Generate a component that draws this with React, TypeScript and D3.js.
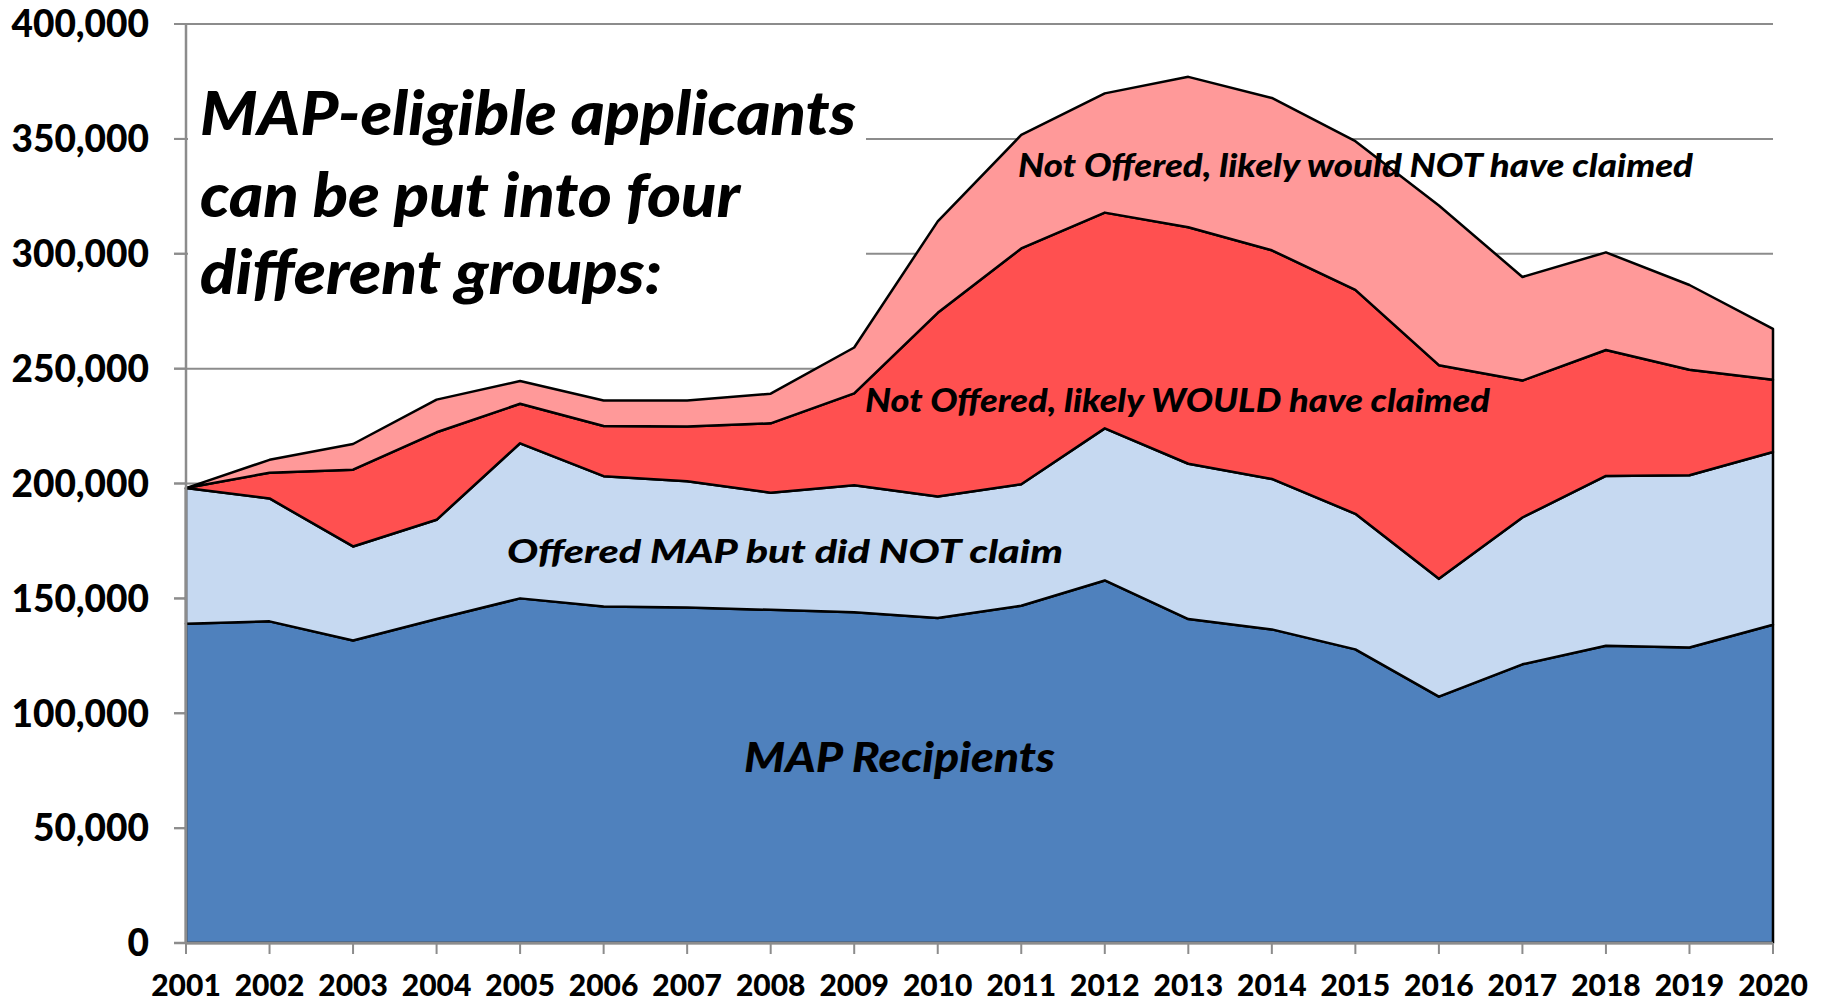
import React, { useMemo } from 'react';
import * as d3 from 'd3';

const years = [
  2001, 2002, 2003, 2004, 2005, 2006, 2007, 2008, 2009, 2010,
  2011, 2012, 2013, 2014, 2015, 2016, 2017, 2018, 2019, 2020,
];
// each group's own count, stacked bottom to top
const recipients = [
  139000, 140000, 131700, 141000, 150000, 146500, 146000, 145000, 144000, 141500,
  146800, 157800, 141000, 136500, 127800, 107200, 121300, 129400, 128600, 138500,
];
const offeredNotClaimed = [
  59000, 53500, 40900, 43200, 67500, 56700, 55000, 51000, 55200, 52800,
  52900, 66200, 67600, 65500, 59000, 51300, 63900, 73900, 75000, 75200,
];
const notOfferedWould = [
  0, 11200, 33400, 38100, 17200, 21800, 23800, 30200, 40000, 80000,
  102600, 93900, 102900, 99500, 97500, 93000, 59600, 54800, 45900, 31500,
];
const notOfferedWouldNot = [
  0, 5600, 11200, 14200, 9900, 11100, 11300, 12900, 20000, 39800,
  49400, 51900, 65500, 66300, 64700, 69500, 45100, 42500, 36900, 22100,
];
const yTicks = [0, 50000, 100000, 150000, 200000, 250000, 300000, 350000, 400000];

const keys = ['recipients', 'offered', 'would', 'wouldNot'];
const colors: Record<string, string> = {
  recipients: '#4F81BD',
  offered: '#C6D9F1',
  would: '#FF5050',
  wouldNot: '#FF9999',
};

const W = 1821;
const H = 1006;
const FONT = "Lato, 'Open Sans', sans-serif";
const GRID = '#8c8c8c';

const titleLines = [
  { text: 'MAP-eligible applicants', x: 200, y: 135, len: 656 },
  { text: 'can be put into four', x: 200, y: 217, len: 540 },
  { text: 'different groups:', x: 200, y: 294, len: 462 },
];

const notes = [
  { text: 'Not Offered, likely would NOT have claimed', x: 1018, y: 177, len: 675, size: 33 },
  { text: 'Not Offered, likely WOULD have claimed', x: 865, y: 412, len: 625, size: 33 },
  { text: 'Offered MAP but did NOT claim', x: 507, y: 563, len: 556, size: 33 },
  { text: 'MAP Recipients', x: 744, y: 772, len: 311, size: 41 },
];

const App: React.FC = () => {
  const x = d3.scaleLinear().domain([2001, 2020]).range([186, 1773]);
  const y = d3.scaleLinear().domain([0, 400000]).range([943, 24]);

  const layers = useMemo(() => {
    const rows = years.map((yr, i) => ({
      year: yr,
      recipients: recipients[i],
      offered: offeredNotClaimed[i],
      would: notOfferedWould[i],
      wouldNot: notOfferedWouldNot[i],
    }));
    return d3.stack<any>().keys(keys)(rows);
  }, []);

  const area = d3
    .area<any>()
    .x((d) => x(d.data.year))
    .y0((d) => y(d[0]))
    .y1((d) => y(d[1]));

  return (
    <svg
      width={W}
      height={H}
      style={{ position: 'absolute', left: 0, top: 0, background: '#fff' }}
      fontFamily={FONT}
    >
      {yTicks.slice(1).map((t) => (
        <line key={t} x1={174} x2={1773} y1={y(t)} y2={y(t)} stroke={GRID} strokeWidth={2} />
      ))}
      <rect x={188} y={60} width={678} height={245} fill="#fff" />

      {layers.map((layer) => (
        <path
          key={layer.key}
          d={area(layer) || ''}
          fill={colors[layer.key]}
          stroke="#000"
          strokeWidth={2.5}
          strokeLinejoin="round"
        />
      ))}

      {/* axes */}
      <line x1={186} x2={186} y1={24} y2={943} stroke={GRID} strokeWidth={2.5} />
      <line x1={174} x2={1773} y1={943} y2={943} stroke={GRID} strokeWidth={2.5} />
      {yTicks.map((t) => (
        <g key={t}>
          <line x1={174} x2={186} y1={y(t)} y2={y(t)} stroke={GRID} strokeWidth={2} />
          <text
            x={149}
            y={y(t)}
            dy="0.36em"
            textAnchor="end"
            fontSize={37}
            fontWeight={900}
          >
            {d3.format(',')(t)}
          </text>
        </g>
      ))}
      {years.map((yr) => (
        <g key={yr}>
          <line x1={x(yr)} x2={x(yr)} y1={943} y2={954} stroke={GRID} strokeWidth={2} />
          <text x={x(yr)} y={996} textAnchor="middle" fontSize={30} fontWeight={900}>
            {yr}
          </text>
        </g>
      ))}

      {titleLines.map((l) => (
        <text
          key={l.text}
          x={l.x}
          y={l.y}
          fontSize={61}
          fontWeight={900}
          fontStyle="italic"
          textLength={l.len}
          lengthAdjust="spacingAndGlyphs"
        >
          {l.text}
        </text>
      ))}
      {notes.map((n) => (
        <text
          key={n.text}
          x={n.x}
          y={n.y}
          fontSize={n.size}
          fontWeight={900}
          fontStyle="italic"
          textLength={n.len}
          lengthAdjust="spacingAndGlyphs"
        >
          {n.text}
        </text>
      ))}
    </svg>
  );
};

export default App;
